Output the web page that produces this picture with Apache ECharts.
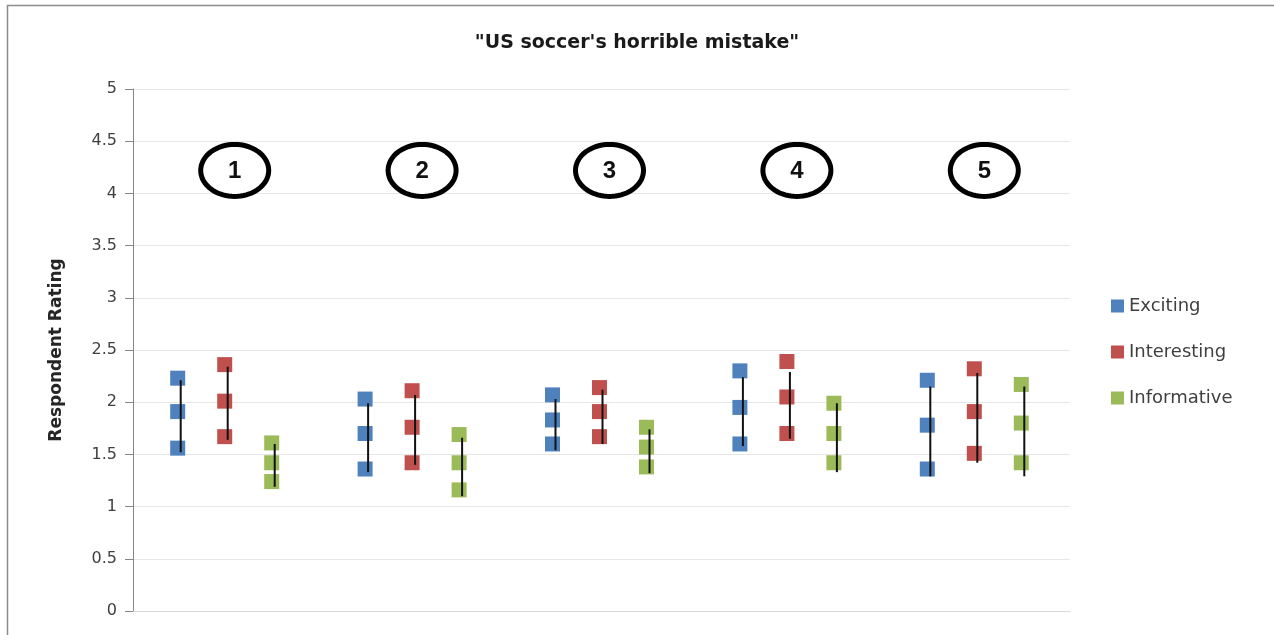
<!DOCTYPE html>
<html>
<head>
<meta charset="utf-8">
<script src="https://cdn.jsdelivr.net/npm/echarts@6/dist/echarts.min.js"></script>
<style>
  html, body { margin: 0; padding: 0; background: #ffffff; }
  #chart { width: 1274px; height: 635px; }
</style>
</head>
<body>
<div id="chart"></div>
<script>
// Stimulus numbers (category axis) and the rating scale
const categories = ['1', '2', '3', '4', '5'];
const yTicks = { min: 0, max: 5, step: 0.5 };
const badgeLevel = 4.22;

// Ratings per stimulus: [low, middle, high]
const exciting = [
  [1.56, 1.91, 2.23],
  [1.36, 1.70, 2.03],
  [1.60, 1.83, 2.07],
  [1.60, 1.95, 2.30],
  [1.36, 1.78, 2.21]
];
const interesting = [
  [1.67, 2.01, 2.36],
  [1.42, 1.76, 2.11],
  [1.67, 1.91, 2.14],
  [1.70, 2.05, 2.39],
  [1.51, 1.91, 2.32]
];
const informative = [
  [1.24, 1.42, 1.61],
  [1.16, 1.42, 1.69],
  [1.38, 1.57, 1.76],
  [1.42, 1.70, 1.99],
  [1.42, 1.80, 2.17]
];

// Range lines per stimulus: [bottom, top]
const excitingRange = [[1.52, 2.21], [1.33, 1.99], [1.54, 2.03], [1.58, 2.24], [1.29, 2.15]];
const interestingRange = [[1.64, 2.34], [1.40, 2.07], [1.60, 2.12], [1.65, 2.29], [1.42, 2.28]];
const informativeRange = [[1.19, 1.60], [1.10, 1.66], [1.32, 1.74], [1.33, 1.99], [1.29, 2.15]];

const seriesDefs = [
  { name: 'Exciting', color: '#4f81bd', points: exciting, range: excitingRange, dx: -49 },
  { name: 'Interesting', color: '#c0504d', points: interesting, range: interestingRange, dx: -2 },
  { name: 'Informative', color: '#9bbb59', points: informative, range: informativeRange, dx: 45 }
];

const textFont = '"DejaVu Sans", "Noto Sans", sans-serif';

const chart = echarts.init(document.getElementById('chart'), null, { renderer: 'canvas' });

function scatterData(points) {
  const out = [];
  points.forEach((triple, i) => triple.forEach(v => out.push([i, v])));
  return out;
}

function rangeData(range) {
  return range.map((r, i) => [i, r[0], r[1]]);
}

const series = [];
seriesDefs.forEach(def => {
  series.push({
    name: def.name,
    type: 'scatter',
    symbol: 'rect',
    symbolSize: 15,
    symbolOffset: [def.dx, 0],
    itemStyle: { color: def.color, opacity: 1 },
    data: scatterData(def.points),
    z: 2,
    silent: true
  });
});

// Black range lines drawn over the markers
seriesDefs.forEach(def => {
  series.push({
    type: 'custom',
    name: def.name + ' range',
    data: rangeData(def.range),
    z: 3,
    silent: true,
    renderItem: function (params, api) {
      const a = api.coord([api.value(0), api.value(1)]);
      const b = api.coord([api.value(0), api.value(2)]);
      const x = a[0] + def.dx + 3;
      return {
        type: 'line',
        shape: { x1: x, y1: a[1], x2: x, y2: b[1] },
        style: { stroke: '#111111', lineWidth: 2 }
      };
    }
  });
});

// Circled stimulus numbers
series.push({
  type: 'custom',
  name: 'badges',
  data: categories.map((c, i) => [i, badgeLevel]),
  z: 4,
  silent: true,
  renderItem: function (params, api) {
    const p = api.coord([api.value(0), api.value(1)]);
    const cx = p[0] + 8, cy = p[1];
    const rx = 34, ry = 26;
    const pts = [];
    for (let k = 0; k < 72; k++) {
      const t = (k / 72) * Math.PI * 2;
      pts.push([cx + rx * Math.cos(t), cy + ry * Math.sin(t)]);
    }
    return {
      type: 'group',
      children: [
        {
          type: 'polygon',
          shape: { points: pts },
          style: { fill: '#ffffff', stroke: '#000000', lineWidth: 5 }
        },
        {
          type: 'text',
          style: {
            text: categories[params.dataIndex],
            x: cx, y: cy + 1,
            align: 'center', verticalAlign: 'middle',
            font: 'bold 24px "Liberation Sans", Arial, sans-serif',
            fill: '#111111'
          }
        }
      ]
    };
  }
});

chart.setOption({
  backgroundColor: '#ffffff',
  animation: false,
  title: {
    text: '"US soccer\'s horrible mistake"',
    left: 'center',
    top: 29,
    textStyle: {
      fontFamily: textFont,
      fontSize: 19,
      fontWeight: 'bold',
      color: '#1a1a1a'
    }
  },
  legend: {
    data: seriesDefs.map(d => ({ name: d.name, icon: 'rect' })),
    orient: 'vertical',
    left: 1106,
    top: 292,
    itemWidth: 13,
    itemHeight: 13,
    itemGap: 28,
    textStyle: {
      fontFamily: textFont,
      fontSize: 18,
      lineHeight: 18,
      color: '#404040'
    },
    selectedMode: false
  },
  graphic: [
    {
      type: 'rect',
      shape: { x: 7.5, y: 5.5, width: 1300, height: 700 },
      style: { fill: 'none', stroke: '#8c8c8c', lineWidth: 1.5 },
      silent: true,
      z: 100
    }
  ],
  grid: { left: 133, right: 204, top: 89, bottom: 24 },
  xAxis: {
    type: 'category',
    data: categories,
    boundaryGap: true,
    axisLine: { show: true, lineStyle: { color: '#d9d9d9', width: 1 } },
    axisTick: { show: false },
    axisLabel: { show: false },
    splitLine: { show: false }
  },
  yAxis: {
    type: 'value',
    min: yTicks.min,
    max: yTicks.max,
    interval: yTicks.step,
    name: 'Respondent Rating',
    nameLocation: 'middle',
    nameGap: 68,
    nameTextStyle: {
      fontFamily: textFont,
      fontSize: 17,
      fontWeight: 'bold',
      color: '#262626'
    },
    axisLine: { show: true, lineStyle: { color: '#868686', width: 1 } },
    axisTick: { show: true, inside: false, length: 8, lineStyle: { color: '#868686' } },
    axisLabel: {
      margin: 16,
      fontFamily: textFont,
      fontSize: 16,
      color: '#404040'
    },
    splitLine: { show: true, lineStyle: { color: '#e6e6e6', width: 1 } }
  },
  series: series
});
</script>
</body>
</html>
